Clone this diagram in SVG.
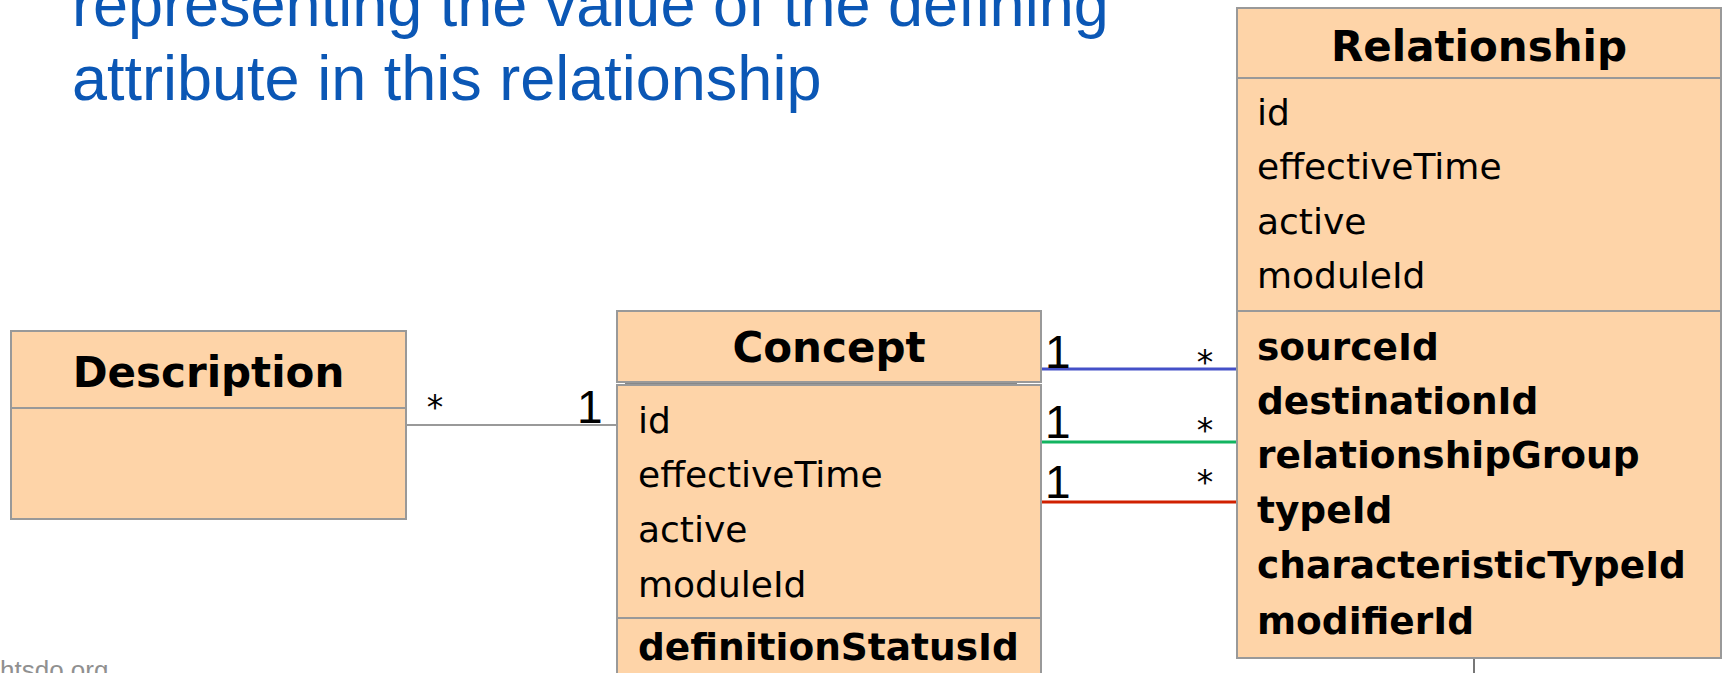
<svg xmlns="http://www.w3.org/2000/svg" width="1725" height="673" viewBox="0 0 1725 673">
<style>
.box{fill:#FED4A8;stroke:#999;stroke-width:2}
.sep{stroke:#999;stroke-width:2}
.ttl{font-family:"DejaVu Sans",Verdana,sans-serif;font-weight:bold;font-size:42px;fill:#000;text-anchor:middle}
.att{font-family:"DejaVu Sans",Verdana,sans-serif;font-size:36px;fill:#000}
.key{font-family:"DejaVu Sans",Verdana,sans-serif;font-weight:bold;font-size:37.5px;fill:#000}
.one{font-family:"Liberation Sans",Arial,sans-serif;font-size:46px;fill:#000}
.many{font-family:"DejaVu Sans",sans-serif;font-size:33px;fill:#000;text-anchor:middle}
.head{font-family:"Liberation Sans",Arial,sans-serif;font-size:63px;fill:#0B57B5}
</style>
<rect width="1725" height="673" fill="#fff"/>
<g id="title">
<text class="head" x="72" y="26">representing the value of the defining</text>
<text class="head" x="72" y="100">attribute in this relationship</text>
</g>
<text x="0" y="679" font-family="Liberation Sans, Arial, sans-serif" font-size="26" fill="#909090">htsdo.org</text>
<g id="connectors">
<line x1="406" y1="425" x2="617" y2="425" stroke="#999" stroke-width="2"/>
<line x1="1041" y1="369" x2="1237" y2="369" stroke="#4450C8" stroke-width="3"/>
<line x1="1041" y1="442" x2="1237" y2="442" stroke="#12B460" stroke-width="3"/>
<line x1="1041" y1="502" x2="1237" y2="502" stroke="#D02000" stroke-width="3"/>
<line x1="1474" y1="658" x2="1474" y2="680" stroke="#777" stroke-width="2"/>
<text class="many" x="435" y="419">*</text>
<text class="one" x="577" y="423">1</text>
<text class="one" x="1045" y="368">1</text>
<text class="many" x="1205" y="374">*</text>
<text class="one" x="1045" y="438">1</text>
<text class="many" x="1205" y="442">*</text>
<text class="one" x="1045" y="498">1</text>
<text class="many" x="1205" y="494">*</text>
</g>
<g id="description">
<rect class="box" x="11" y="331" width="395" height="188"/>
<line class="sep" x1="11" y1="408" x2="406" y2="408"/>
<text class="ttl" x="208.5" y="387">Description</text>
</g>
<g id="concept">
<line x1="625" y1="383.5" x2="1017" y2="383.5" stroke="#888" stroke-width="1.5"/>
<rect class="box" x="617" y="311" width="424" height="71"/>
<text class="ttl" x="829" y="362">Concept</text>
<rect class="box" x="617" y="385" width="424" height="300"/>
<line class="sep" x1="617" y1="618" x2="1041" y2="618"/>
<text class="att" x="638" y="433">id</text>
<text class="att" x="638" y="487">effectiveTime</text>
<text class="att" x="638" y="542">active</text>
<text class="att" x="638" y="597">moduleId</text>
<text class="key" x="638" y="660">definitionStatusId</text>
</g>
<g id="relationship">
<rect class="box" x="1237" y="8" width="484" height="650"/>
<line class="sep" x1="1237" y1="78" x2="1721" y2="78"/>
<line class="sep" x1="1237" y1="311" x2="1721" y2="311"/>
<text class="ttl" x="1479" y="61">Relationship</text>
<text class="att" x="1257" y="125">id</text>
<text class="att" x="1257" y="179">effectiveTime</text>
<text class="att" x="1257" y="234">active</text>
<text class="att" x="1257" y="288">moduleId</text>
<text class="key" x="1257" y="360">sourceId</text>
<text class="key" x="1257" y="414">destinationId</text>
<text class="key" x="1257" y="468">relationshipGroup</text>
<text class="key" x="1257" y="523">typeId</text>
<text class="key" x="1257" y="578">characteristicTypeId</text>
<text class="key" x="1257" y="634">modifierId</text>
</g>
</svg>
